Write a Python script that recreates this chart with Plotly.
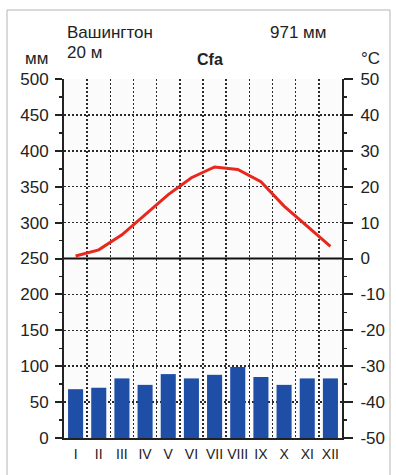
import plotly.graph_objects as go

months = ["I", "II", "III", "IV", "V", "VI", "VII", "VIII", "IX", "X", "XI", "XII"]
precip_mm = [68, 70, 83, 74, 89, 83, 88, 99, 85, 74, 83, 83]
temp_c = [0.7, 2.4, 6.6, 12.3, 17.8, 22.5, 25.5, 24.8, 21.4, 14.6, 9.0, 3.4]
mm_ticks = [0, 50, 100, 150, 200, 250, 300, 350, 400, 450, 500]
c_ticks = [-50, -40, -30, -20, -10, 0, 10, 20, 30, 40, 50]

W, H = 396, 475
L, R, T, B = 64, 342, 79, 438
FONT = "Liberation Sans, Arial, sans-serif"

def px(x):
    return (x - L) / (R - L)

def py(y):
    return (B - y) / (B - T)

xs = list(range(1, 13))

fig = go.Figure()
fig.add_trace(go.Bar(x=xs, y=precip_mm, marker=dict(color="#1f4ea6", line=dict(width=0)),
                     yaxis="y", showlegend=False, hoverinfo="skip"))
fig.add_trace(go.Scatter(x=xs, y=temp_c, mode="lines", line=dict(color="#e8281e", width=3),
                         yaxis="y2", showlegend=False, hoverinfo="skip"))

gridc = "#2a2a2a"
fig.update_layout(
    width=W, height=H,
    margin=dict(l=L, r=W - R, t=T, b=H - B),
    paper_bgcolor="white", plot_bgcolor="#fbfbfb",
    bargap=0.35, hovermode=False,
    font=dict(family=FONT, color="#222"),
    xaxis=dict(range=[0.5, 12.5], tickvals=xs, ticktext=months, showgrid=False,
               ticks="", tickfont=dict(size=14, color="#222"), ticklabelstandoff=2,
               showline=True, linecolor="#222", linewidth=2, mirror=False, zeroline=False,
               showspikes=False,
               minor=dict(tickvals=[i + 0.5 for i in range(1, 12)], showgrid=True,
                          gridcolor=gridc, griddash="2px,2px", gridwidth=1.5, ticks="")),
    yaxis=dict(range=[0, 500], tickvals=mm_ticks, ticktext=[str(v) for v in mm_ticks],
               showgrid=True, gridcolor=gridc, griddash="2px,2px", gridwidth=1.5,
               ticks="outside", ticklen=7, tickwidth=2, tickcolor="#222",
               tickfont=dict(size=17, color="#222"), ticklabelstandoff=3,
               showline=True, linecolor="#222", linewidth=2, zeroline=False,
               minor=dict(dtick=25, tick0=0, ticks="outside", ticklen=3, tickwidth=1.5,
                          tickcolor="#222", showgrid=False)),
    yaxis2=dict(range=[-50, 50], overlaying="y", side="right", tickvals=c_ticks,
                ticktext=[str(v) for v in c_ticks], showgrid=False,
                ticks="outside", ticklen=9, tickwidth=2, tickcolor="#222",
                tickfont=dict(size=17, color="#222"), ticklabelstandoff=4,
                showline=True, linecolor="#222", linewidth=2, zeroline=False,
                minor=dict(dtick=5, tick0=0, ticks="outside", ticklen=3, tickwidth=1.5,
                           tickcolor="#222", showgrid=False)),
)

# zero line (0 °C / 250 mm)
fig.add_shape(type="line", xref="paper", yref="y", x0=0, x1=1, y0=250, y1=250,
              line=dict(color="#111", width=2))
# outer frame
fig.add_shape(type="rect", xref="paper", yref="paper", x0=px(7), x1=px(390),
              y0=py(480), y1=py(10), line=dict(color="#b5b5b5", width=1), layer="below")

def label(text, x, y, size=17, xanchor="left", bold=False):
    fig.add_annotation(text=f"<b>{text}</b>" if bold else text, xref="paper", yref="paper",
                       x=px(x), y=py(y), xanchor=xanchor, yanchor="middle", showarrow=False,
                       font=dict(size=size, family=FONT, color="#222"))

label("Вашингтон", 65, 33)
label("20 м", 65, 53)
label("971 мм", 268, 33)
label("Cfa", 210, 60, size=16, xanchor="center", bold=True)
label("мм", 23, 59)
label("°C", 359, 59)

fig.write_html("out.html", config={"displayModeBar": False, "staticPlot": True},
               post_script="document.body.style.margin='0';document.body.style.overflow='hidden';")
